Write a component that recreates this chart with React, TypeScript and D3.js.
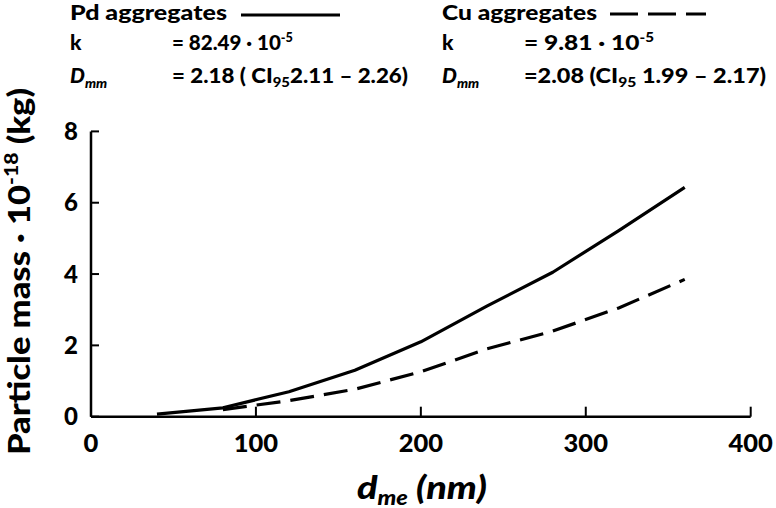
import React from "react";
import * as d3 from "d3";

const pdX = [40, 80, 120, 160, 200, 240, 280, 320, 360];
const pdY = [0.07, 0.25, 0.7, 1.3, 2.1, 3.1, 4.05, 5.22, 6.43];
const cuX = [80, 120, 160, 200, 240, 280, 320, 360];
const cuY = [0.2, 0.45, 0.77, 1.26, 1.9, 2.4, 3.05, 3.85];
const xTicks = [0, 100, 200, 300, 400];
const yTicks = [0, 2, 4, 6, 8];

const FONT = "Lato, 'Open Sans', sans-serif";
const FW = 900;

export default function App() {
  const W = 776, H = 508;
  const x = d3.scaleLinear().domain([0, 400]).range([91, 750.7]);
  const y = d3.scaleLinear().domain([0, 8]).range([416.7, 131.4]);
  const line = d3.line<[number, number]>().x(d => x(d[0])).y(d => y(d[1]));
  const pd = line(pdX.map((v, i) => [v, pdY[i]] as [number, number])) || "";
  const cu = line(cuX.map((v, i) => [v, cuY[i]] as [number, number])) || "";
  const x0 = x(0), y0 = y(0);
  const fs = 21;

  return (
    <svg width={W} height={H} style={{ position: "absolute", left: 0, top: 0, background: "#fff" }} fontFamily={FONT} fontWeight={FW}>
      <rect x={0} y={0} width={W} height={H} fill="#fff" />
      {/* Legend block: Pd */}
      <text x={70} y={19.5} fontSize={fs} textLength={157} lengthAdjust="spacingAndGlyphs">Pd aggregates</text>
      <line x1={241} x2={340} y1={15} y2={15} stroke="#000" strokeWidth={3} />
      <text x={70} y={49.5} fontSize={fs}>k</text>
      <text x={172} y={49.5} fontSize={fs} textLength={121} lengthAdjust="spacingAndGlyphs">= 82.49 · 10<tspan fontSize={13} dy={-8}>-5</tspan></text>
      <text x={70} y={83} fontSize={fs} fontStyle="italic">D<tspan fontSize={14} dy={5}>mm</tspan></text>
      <text x={172} y={83} fontSize={fs} textLength={236} lengthAdjust="spacingAndGlyphs">= 2.18 ( CI<tspan fontSize={14} dy={4}>95</tspan><tspan dy={-4}>2.11 – 2.26)</tspan></text>
      {/* Legend block: Cu */}
      <text x={442} y={19.5} fontSize={fs} textLength={155} lengthAdjust="spacingAndGlyphs">Cu aggregates</text>
      <line x1={610} x2={706} y1={14} y2={14} stroke="#000" strokeWidth={3} strokeDasharray="28,10" />
      <text x={442} y={49.5} fontSize={fs}>k</text>
      <text x={524} y={49.5} fontSize={fs} textLength={130} lengthAdjust="spacingAndGlyphs">= 9.81 · 10<tspan fontSize={13} dy={-8}>-5</tspan></text>
      <text x={442} y={83} fontSize={fs} fontStyle="italic">D<tspan fontSize={14} dy={5}>mm</tspan></text>
      <text x={524} y={83} fontSize={fs} textLength={242} lengthAdjust="spacingAndGlyphs">=2.08 (CI<tspan fontSize={14} dy={4}>95</tspan><tspan dy={-4}> 1.99 – 2.17)</tspan></text>

      {/* Axes */}
      <line x1={x0} x2={x0} y1={y(8)} y2={y0} stroke="#000" strokeWidth={2.5} />
      <line x1={x0} x2={x(400)} y1={y0} y2={y0} stroke="#000" strokeWidth={2.5} />
      {yTicks.map(t => (
        <g key={"y" + t}>
          <line x1={x0} x2={x0 + 8} y1={y(t)} y2={y(t)} stroke="#000" strokeWidth={2} />
          <text x={78} y={y(t) + 8.5} fontSize={24} textAnchor="end">{t}</text>
        </g>
      ))}
      {xTicks.map(t => (
        <g key={"x" + t}>
          <line x1={x(t)} x2={x(t)} y1={y0} y2={y0 - 10} stroke="#000" strokeWidth={2} />
          <text x={x(t)} y={452} fontSize={25.5} textAnchor="middle">{t}</text>
        </g>
      ))}

      {/* Data */}
      <path d={pd} fill="none" stroke="#000" strokeWidth={3.2} strokeLinejoin="round" />
      <path d={cu} fill="none" stroke="#000" strokeWidth={3.2} strokeDasharray="24,10" />

      {/* Axis titles */}
      <text transform="translate(29.5,455) rotate(-90)" fontSize={31} textLength={367} lengthAdjust="spacingAndGlyphs">
        Particle mass · 10<tspan fontSize={19} dy={-12}>-18</tspan><tspan dy={12}> (kg)</tspan>
      </text>
      <text x={357} y={499} fontSize={32} fontStyle="italic" textLength={130} lengthAdjust="spacingAndGlyphs">
        d<tspan fontSize={20} dy={6}>me</tspan><tspan dy={-6}> (nm)</tspan>
      </text>
    </svg>
  );
}
